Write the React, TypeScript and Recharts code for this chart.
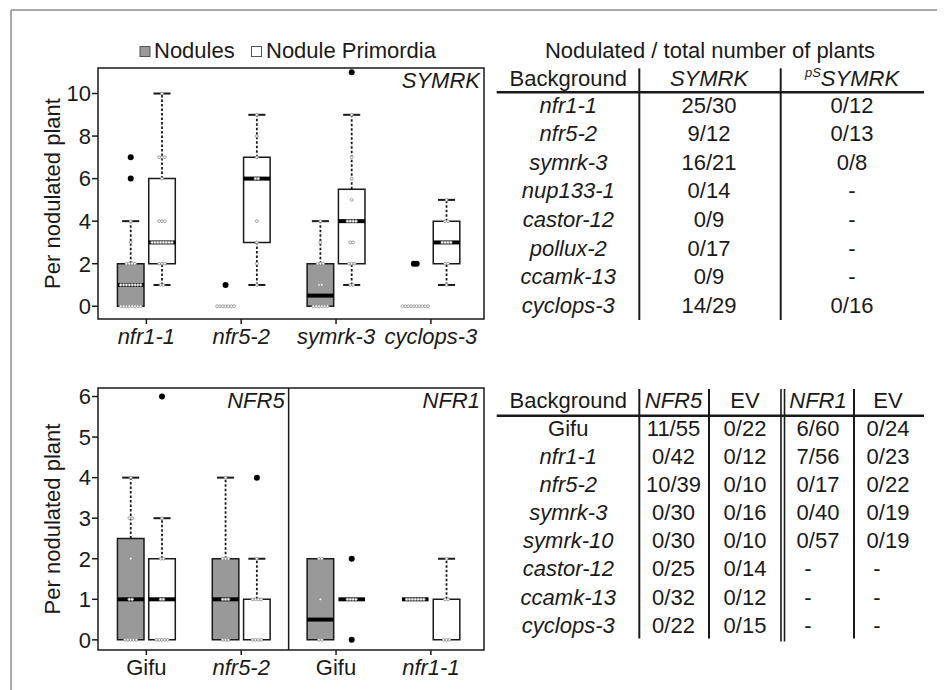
import React from 'react';
import { ComposedChart, XAxis, YAxis, Scatter, ReferenceArea, ReferenceLine } from 'recharts';

// ---- data ----
const topGroups = ['nfr1-1', 'nfr5-2', 'symrk-3', 'cyclops-3'];
const bottomGroups = ['Gifu', 'nfr5-2', 'Gifu', 'nfr1-1'];

// box stats: [lower whisker, Q1, median, Q3, upper whisker], null = not drawn
const topNodulesBox = [
  [0, 0, 1, 2, 4],
  [null, null, null, null, null],
  [0, 0, 0.5, 2, 4],
  [null, null, null, null, null],
];
const topPrimordiaBox = [
  [1, 2, 3, 6, 10],
  [1, 3, 6, 7, 9],
  [1, 2, 4, 5.5, 9],
  [1, 2, 3, 4, 5],
];
const topNodulesOutliers = [[6, 7], [1], [], [2, 2]];
const topPrimordiaOutliers = [[], [], [11], []];
const topNodulesPoints = [
  [0, 0, 0, 0, 0, 0, 0, 0, 1, 1, 1, 1, 1, 1, 1, 1, 2, 2, 2, 2, 3, 4],
  [0, 0, 0, 0, 0, 0, 0],
  [0, 0, 0, 0, 0, 0, 1, 1, 2, 2, 2, 3, 4],
  [0, 0, 0, 0, 0, 0, 0, 0, 0, 0],
];
const topPrimordiaPoints = [
  [1, 1, 2, 2, 2, 3, 3, 3, 3, 3, 3, 3, 3, 4, 4, 4, 6, 7, 7, 7, 10],
  [1, 2, 3, 4, 6, 6, 7, 8, 9],
  [1, 1, 2, 2, 2, 3, 3, 4, 4, 4, 4, 5, 6, 7, 9],
  [1, 2, 2, 3, 3, 3, 3, 4, 4, 5],
];

const bottomNodulesBox = [
  [0, 0, 1, 2.5, 4],
  [0, 0, 1, 2, 4],
  [0, 0, 0.5, 2, 2],
  [null, null, 1, null, null],
];
const bottomPrimordiaBox = [
  [0, 0, 1, 2, 3],
  [0, 0, null, 1, 2],
  [null, null, 1, null, null],
  [0, 0, null, 1, 2],
];
const bottomNodulesOutliers = [[], [], [], []];
const bottomPrimordiaOutliers = [[6], [4], [2, 0], []];
const bottomNodulesPoints = [
  [0, 0, 0, 0, 0, 1, 1, 2, 3, 3, 4],
  [0, 0, 0, 1, 1, 1, 2, 2, 2, 4],
  [0, 0, 1, 2, 2],
  [1, 1, 1, 1, 1, 1, 1],
];
const bottomPrimordiaPoints = [
  [0, 0, 0, 0, 0, 1, 1, 2, 2, 3],
  [0, 0, 0, 0, 1, 1, 1, 1, 2],
  [1, 1, 1, 1],
  [0, 0, 0, 1, 1, 2],
];

// tables
const symrkBackgrounds = ['nfr1-1', 'nfr5-2', 'symrk-3', 'nup133-1', 'castor-12', 'pollux-2', 'ccamk-13', 'cyclops-3'];
const symrkCounts = ['25/30', '9/12', '16/21', '0/14', '0/9', '0/17', '0/9', '14/29'];
const psSymrkCounts = ['0/12', '0/13', '0/8', '-', '-', '-', '-', '0/16'];
const nfrBackgrounds = ['Gifu', 'nfr1-1', 'nfr5-2', 'symrk-3', 'symrk-10', 'castor-12', 'ccamk-13', 'cyclops-3'];
const nfr5Counts = ['11/55', '0/42', '10/39', '0/30', '0/30', '0/25', '0/32', '0/22'];
const nfr5EvCounts = ['0/22', '0/12', '0/10', '0/16', '0/10', '0/14', '0/12', '0/15'];
const nfr1Counts = ['6/60', '7/56', '0/17', '0/40', '0/57', '-', '-', '-'];
const nfr1EvCounts = ['0/24', '0/23', '0/22', '0/19', '0/19', '-', '-', '-'];

// ---- styling ----
const FONT = '"Liberation Sans", Arial, Helvetica, sans-serif';
const INK = '#1a1a1a';
const NODULE_FILL = '#999999';
const X_DOMAIN: [number, number] = [0.49, 4.56];
const GROUP_TICKS = [1, 2, 3, 4];
const PAIR_OFFSET = 0.165;
const BOX_HW = 0.14;
const CAP_HW = 0.09;
const POINT_STEP = 0.03;

type Box = (number | null)[];

// put repeated values side by side, centred on the box
const spread = (values: number[], pos: number) => {
  const counts = new Map<number, number>();
  values.forEach(v => counts.set(v, (counts.get(v) || 0) + 1));
  const seen = new Map<number, number>();
  return values.map(v => {
    const n = counts.get(v) as number;
    const k = seen.get(v) || 0;
    seen.set(v, k + 1);
    return { x: pos + (k - (n - 1) / 2) * POINT_STEP, y: v };
  });
};

const OpenDot = (p: any) => (
  <circle cx={p.cx} cy={p.cy} r={1.4} fill="#fff" stroke="#8a8a8a" strokeWidth={0.8} />
);
const FilledDot = (p: any) => <circle cx={p.cx} cy={p.cy} r={3} fill="#000" />;

const boxMarks = (key: string, pos: number, s: Box, fill: string) => {
  const [lo, q1, med, q3, hi] = s;
  const out: React.ReactNode[] = [];
  if (q3 != null && hi != null && hi > q3) {
    out.push(<ReferenceLine key={key + 'wu'} segment={[{ x: pos, y: q3 }, { x: pos, y: hi }]} stroke={INK} strokeWidth={1.8} strokeDasharray="2.5 2" />);
    out.push(<ReferenceLine key={key + 'cu'} segment={[{ x: pos - CAP_HW, y: hi }, { x: pos + CAP_HW, y: hi }]} stroke={INK} strokeWidth={2} />);
  }
  if (q1 != null && lo != null && lo < q1) {
    out.push(<ReferenceLine key={key + 'wl'} segment={[{ x: pos, y: lo }, { x: pos, y: q1 }]} stroke={INK} strokeWidth={1.8} strokeDasharray="2.5 2" />);
    out.push(<ReferenceLine key={key + 'cl'} segment={[{ x: pos - CAP_HW, y: lo }, { x: pos + CAP_HW, y: lo }]} stroke={INK} strokeWidth={2} />);
  }
  if (q1 != null && q3 != null) {
    out.push(<ReferenceArea key={key + 'b'} x1={pos - BOX_HW} x2={pos + BOX_HW} y1={q1} y2={q3} fill={fill} fillOpacity={1} stroke={INK} strokeWidth={1.5} />);
  }
  if (med != null) {
    out.push(<ReferenceLine key={key + 'm'} segment={[{ x: pos - BOX_HW, y: med }, { x: pos + BOX_HW, y: med }]} stroke="#000" strokeWidth={4} />);
  }
  return out;
};

const GroupTick = (props: any) => {
  const { x, y, payload, labels } = props;
  const label = labels[Math.round(payload.value) - 1];
  return (
    <text x={x} y={y} dy={15.6} textAnchor="middle" fontSize={22} fontFamily={FONT}
      fontStyle={label === 'Gifu' ? 'normal' : 'italic'} fill={INK}>
      {label}
    </text>
  );
};

interface PanelProps {
  groups: string[];
  yDomain: [number, number];
  yTicks: number[];
  nodBox: Box[];
  primBox: Box[];
  nodPts: number[][];
  primPts: number[][];
  nodOut: number[][];
  primOut: number[][];
  top: number;
  height: number;
  marginTop: number;
  marginBottom: number;
  split?: number;
  labels: { text: string; x1?: number; x2?: number }[];
}

const Panel = (p: PanelProps) => {
  const nodPos = p.groups.map((_, i) => i + 1 - PAIR_OFFSET);
  const primPos = p.groups.map((_, i) => i + 1 + PAIR_OFFSET);
  const openPts = [
    ...p.nodPts.flatMap((v, i) => spread(v, nodPos[i])),
    ...p.primPts.flatMap((v, i) => spread(v, primPos[i])),
  ];
  const outPts = [
    ...p.nodOut.flatMap((v, i) => spread(v, nodPos[i])),
    ...p.primOut.flatMap((v, i) => spread(v, primPos[i])),
  ];
  return (
    <div style={{ position: 'absolute', left: 0, top: p.top, width: 500, height: p.height }}>
      <ComposedChart width={500} height={p.height}
        margin={{ top: p.marginTop, right: 16, bottom: p.marginBottom, left: 7 }}>
        <XAxis type="number" dataKey="x" domain={X_DOMAIN} ticks={GROUP_TICKS} allowDataOverflow
          interval={0} axisLine={false} tickSize={5} tickMargin={4} height={30}
          tickLine={{ stroke: INK, strokeWidth: 1.5 }}
          tick={<GroupTick labels={p.groups} />} />
        <YAxis type="number" domain={p.yDomain} ticks={p.yTicks} allowDataOverflow interval={0}
          width={91} axisLine={false} tickSize={6} tickMargin={1}
          tickLine={{ stroke: INK, strokeWidth: 1.5 }}
          tick={{ fontSize: 22, fill: INK, fontFamily: FONT }}
          label={{ value: 'Per nodulated plant', angle: -90, position: 'center', fontSize: 22, fill: INK, fontFamily: FONT }} />
        <ReferenceArea y1={p.yDomain[0]} y2={p.yDomain[1]} fill="none" stroke={INK} strokeWidth={1.5} />
        {p.labels.map(l => (
          <ReferenceArea key={l.text} x1={l.x1} x2={l.x2} y1={p.yDomain[0]} y2={p.yDomain[1]}
            fill="none" stroke="none"
            label={{ value: l.text, position: 'insideTopRight', offset: 4, fontSize: 22, fontStyle: 'italic', fill: INK, fontFamily: FONT }} />
        ))}
        {p.split != null && <ReferenceLine x={p.split} stroke={INK} strokeWidth={1.5} />}
        {p.nodBox.flatMap((s, i) => boxMarks('n' + i, nodPos[i], s, NODULE_FILL))}
        {p.primBox.flatMap((s, i) => boxMarks('p' + i, primPos[i], s, '#ffffff'))}
        <Scatter data={openPts} dataKey="y" isAnimationActive={false} shape={OpenDot} />
        <Scatter data={outPts} dataKey="y" isAnimationActive={false} shape={FilledDot} />
      </ComposedChart>
    </div>
  );
};

const T = (props: any) => (
  <text fontSize={22} fontFamily={FONT} fill={INK} textAnchor="middle" {...props} />
);

const Overlay = () => {
  const topRow = (i: number) => 112.5 + i * 28.65;
  const botRow = (i: number) => 435.7 + i * 28.14;
  return (
    <svg width={947} height={690} style={{ position: 'absolute', left: 0, top: 0, pointerEvents: 'none' }}>
      {/* outer frame */}
      <line x1={11} y1={10} x2={937} y2={10} stroke="#8c8c8c" strokeWidth={1.5} />
      <line x1={11} y1={10} x2={11} y2={690} stroke="#8c8c8c" strokeWidth={1.5} />

      {/* legend */}
      <rect x={140} y={46.5} width={10} height={10} fill={NODULE_FILL} stroke="#555" strokeWidth={1} />
      <T x={154} y={58.3} textAnchor="start">Nodules</T>
      <rect x={251.5} y={46.5} width={10} height={10} fill="#fff" stroke="#555" strokeWidth={1} />
      <T x={266} y={58.3} textAnchor="start">Nodule Primordia</T>

      {/* SYMRK table */}
      <T x={710} y={58.3}>Nodulated / total number of plants</T>
      <T x={568.3} y={86}>Background</T>
      <T x={709} y={86} fontStyle="italic">SYMRK</T>
      <T x={852} y={86} fontStyle="italic">
        <tspan fontSize={13} dy={-9}>pS</tspan>
        <tspan dy={9}>SYMRK</tspan>
      </T>
      <line x1={639.3} y1={68.3} x2={639.3} y2={320} stroke={INK} strokeWidth={2} />
      <line x1={780.7} y1={68.3} x2={780.7} y2={320} stroke={INK} strokeWidth={2} />
      <line x1={496.7} y1={92.3} x2={924} y2={92.3} stroke={INK} strokeWidth={2.5} />
      {symrkBackgrounds.map((b, i) => (
        <T key={'sb' + i} x={568.3} y={topRow(i)} fontStyle="italic">{b}</T>
      ))}
      {symrkCounts.map((c, i) => (
        <T key={'sc' + i} x={709} y={topRow(i)}>{c}</T>
      ))}
      {psSymrkCounts.map((c, i) => (
        <T key={'pc' + i} x={852} y={topRow(i)}>{c}</T>
      ))}

      {/* NFR table */}
      <T x={568.3} y={408.3}>Background</T>
      <T x={673.5} y={408.3} fontStyle="italic">NFR5</T>
      <T x={745} y={408.3}>EV</T>
      <T x={818} y={408.3} fontStyle="italic">NFR1</T>
      <T x={888} y={408.3}>EV</T>
      <line x1={639.3} y1={389} x2={639.3} y2={638.5} stroke={INK} strokeWidth={2} />
      <line x1={709} y1={389} x2={709} y2={638.5} stroke={INK} strokeWidth={2} />
      <line x1={781} y1={389} x2={781} y2={641.5} stroke={INK} strokeWidth={1.6} />
      <line x1={784.5} y1={389} x2={784.5} y2={641.5} stroke={INK} strokeWidth={1.6} />
      <line x1={854} y1={389} x2={854} y2={638.5} stroke={INK} strokeWidth={2} />
      <line x1={496.7} y1={415.7} x2={924} y2={415.7} stroke={INK} strokeWidth={2.5} />
      {nfrBackgrounds.map((b, i) => (
        <T key={'nb' + i} x={568.3} y={botRow(i)} fontStyle={b === 'Gifu' ? 'normal' : 'italic'}>{b}</T>
      ))}
      {nfr5Counts.map((c, i) => (
        <T key={'n5' + i} x={673.5} y={botRow(i)}>{c}</T>
      ))}
      {nfr5EvCounts.map((c, i) => (
        <T key={'e5' + i} x={745} y={botRow(i)}>{c}</T>
      ))}
      {nfr1Counts.map((c, i) => (
        <T key={'n1' + i} x={c === '-' ? 808 : 818} y={botRow(i)}>{c}</T>
      ))}
      {nfr1EvCounts.map((c, i) => (
        <T key={'e1' + i} x={c === '-' ? 877 : 888} y={botRow(i)}>{c}</T>
      ))}
    </svg>
  );
};

const App = () => (
  <div style={{ position: 'absolute', left: 0, top: 0, width: 947, height: 690, background: '#fff', fontFamily: FONT, overflow: 'hidden' }}>
    <Panel groups={topGroups} yDomain={[-0.6, 11.2]} yTicks={[0, 2, 4, 6, 8, 10]}
      nodBox={topNodulesBox} primBox={topPrimordiaBox}
      nodPts={topNodulesPoints} primPts={topPrimordiaPoints}
      nodOut={topNodulesOutliers} primOut={topPrimordiaOutliers}
      top={0} height={360} marginTop={68} marginBottom={11}
      labels={[{ text: 'SYMRK' }]} />
    <Panel groups={bottomGroups} yDomain={[-0.25, 6.21]} yTicks={[0, 1, 2, 3, 4, 5, 6]}
      nodBox={bottomNodulesBox} primBox={bottomPrimordiaBox}
      nodPts={bottomNodulesPoints} primPts={bottomPrimordiaPoints}
      nodOut={bottomNodulesOutliers} primOut={bottomPrimordiaOutliers}
      top={340} height={350} marginTop={48} marginBottom={10}
      split={2.5}
      labels={[{ text: 'NFR5', x2: 2.5 }, { text: 'NFR1', x1: 2.5 }]} />
    <Overlay />
  </div>
);

export default App;
